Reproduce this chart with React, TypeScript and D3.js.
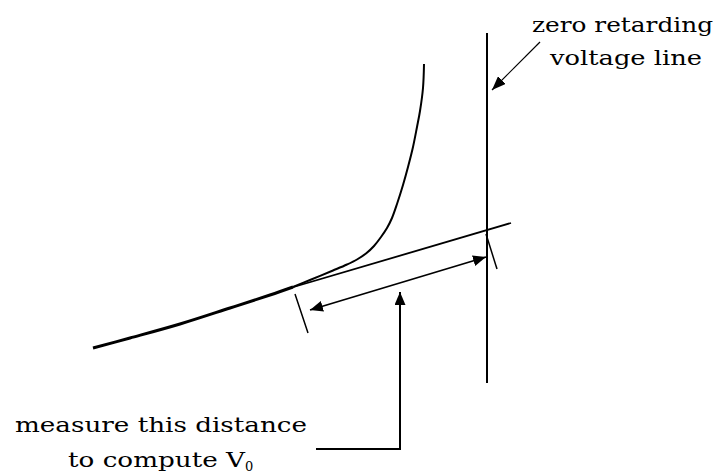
import React, { useRef, useEffect } from "react";
import * as d3 from "d3";

// diagram units: 1 unit = 10px, y measured upward from the bottom edge
const curveLower: [number, number][] = [
  [9.3, 12.7], [13.0, 13.7], [18.0, 15.1], [23.0, 16.7], [27.0, 18.0], [29.3, 18.8],
];
const curveUpper: [number, number][] = [
  [29.3, 18.8], [31.0, 19.5], [33.3, 20.45], [34.7, 21.05], [35.7, 21.55], [36.6, 22.15],
  [37.4, 22.9], [38.1, 23.8], [38.7, 24.7], [39.2, 25.7], [39.7, 27.1], [40.3, 29.0],
  [40.8, 30.8], [41.3, 32.8], [41.7, 34.8], [42.0, 36.4], [42.3, 38.7], [42.4, 41.1],
];
const tangent: [number, number][] = [[28.5, 18.55], [51.1, 25.2]];
const zeroLine: [number, number][] = [[48.7, 44.2], [48.7, 9.2]];
const tickLeft: [number, number][] = [[29.5, 18.1], [30.8, 14.2]];
const tickRight: [number, number][] = [[48.6, 24.1], [49.7, 20.6]];
const measureArrow: [number, number][] = [[31.0, 16.5], [48.6, 21.8]];
const pointerPath: [number, number][] = [[31.6, 2.6], [40.0, 2.6], [40.0, 18.3]];
const labelPointer: [number, number][] = [[54.0, 43.3], [49.2, 38.5]];

const labelLines = ["zero retarding", "voltage line"];
const labelPos: [number, number][] = [[53.2, 44.3], [55.0, 41.0]];
const noteLines = ["measure this distance", "to compute V"];
const notePos: [number, number][] = [[1.5, 4.3], [6.8, 0.8]];
const labelWidths = [181, 152];
const noteWidths = [292, 177];

export default function App() {
  const ref = useRef<SVGSVGElement>(null);

  useEffect(() => {
    const svg = d3.select(ref.current);
    svg.selectAll("*").remove();
    const x = d3.scaleLinear().domain([0, 72]).range([0, 720]);
    const y = d3.scaleLinear().domain([0, 47.5]).range([475, 0]);
    const line = d3.line<[number, number]>().x(d => x(d[0])).y(d => y(d[1]));
    const curved = d3.line<[number, number]>().x(d => x(d[0])).y(d => y(d[1]))
      .curve(d3.curveCatmullRom.alpha(0.5));

    const defs = svg.append("defs");
    const marker = (id: string, w: number, h: number) => {
      defs.append("marker")
        .attr("id", id)
        .attr("viewBox", `0 0 ${w} ${h}`)
        .attr("refX", w).attr("refY", h / 2)
        .attr("markerWidth", w).attr("markerHeight", h)
        .attr("markerUnits", "userSpaceOnUse")
        .attr("orient", "auto-start-reverse")
        .append("path")
        .attr("d", `M0,0L${w},${h / 2}L0,${h}Z`)
        .attr("fill", "#000");
    };
    marker("head", 13, 11);
    marker("small", 14, 11);

    const g = svg.append("g").attr("fill", "none").attr("stroke", "#000");

    g.append("path").attr("d", curved(curveLower)).attr("stroke-width", 3);
    g.append("path").attr("d", curved(curveUpper)).attr("stroke-width", 2);
    g.append("path").attr("d", line(tangent)).attr("stroke-width", 1.8);
    g.append("path").attr("d", line(zeroLine)).attr("stroke-width", 2);
    g.append("path").attr("d", line(tickLeft)).attr("stroke-width", 1.5);
    g.append("path").attr("d", line(tickRight)).attr("stroke-width", 1.5);
    g.append("path").attr("d", line(measureArrow)).attr("stroke-width", 1.8)
      .attr("marker-start", "url(#head)").attr("marker-end", "url(#head)");
    g.append("path").attr("d", line(pointerPath)).attr("stroke-width", 2)
      .attr("marker-end", "url(#head)");
    g.append("path").attr("d", line(labelPointer)).attr("stroke-width", 1.2)
      .attr("marker-end", "url(#small)");

    const font = "'DejaVu Serif', serif";
    svg.selectAll(".label").data(labelLines).join("text")
      .attr("class", "label")
      .attr("x", (d, i) => x(labelPos[i][0]))
      .attr("y", (d, i) => y(labelPos[i][1]))
      .attr("textLength", (d, i) => labelWidths[i])
      .attr("lengthAdjust", "spacingAndGlyphs")
      .attr("font-family", font).attr("font-size", 21)
      .text(d => d);

    const notes = svg.selectAll(".note").data(noteLines).join("text")
      .attr("class", "note")
      .attr("x", (d, i) => x(notePos[i][0]))
      .attr("y", (d, i) => y(notePos[i][1]))
      .attr("font-family", font).attr("font-size", 21);
    notes.append("tspan")
      .attr("textLength", (d, i) => noteWidths[i])
      .attr("lengthAdjust", "spacingAndGlyphs")
      .text(d => d);
    notes.filter((d, i) => i === 1).append("tspan")
      .attr("dy", 4).attr("font-size", 13).text("0");
  }, []);

  return (
    <svg ref={ref} width={720} height={475}
      style={{ position: "absolute", left: 0, top: 0, background: "#fff" }} />
  );
}
